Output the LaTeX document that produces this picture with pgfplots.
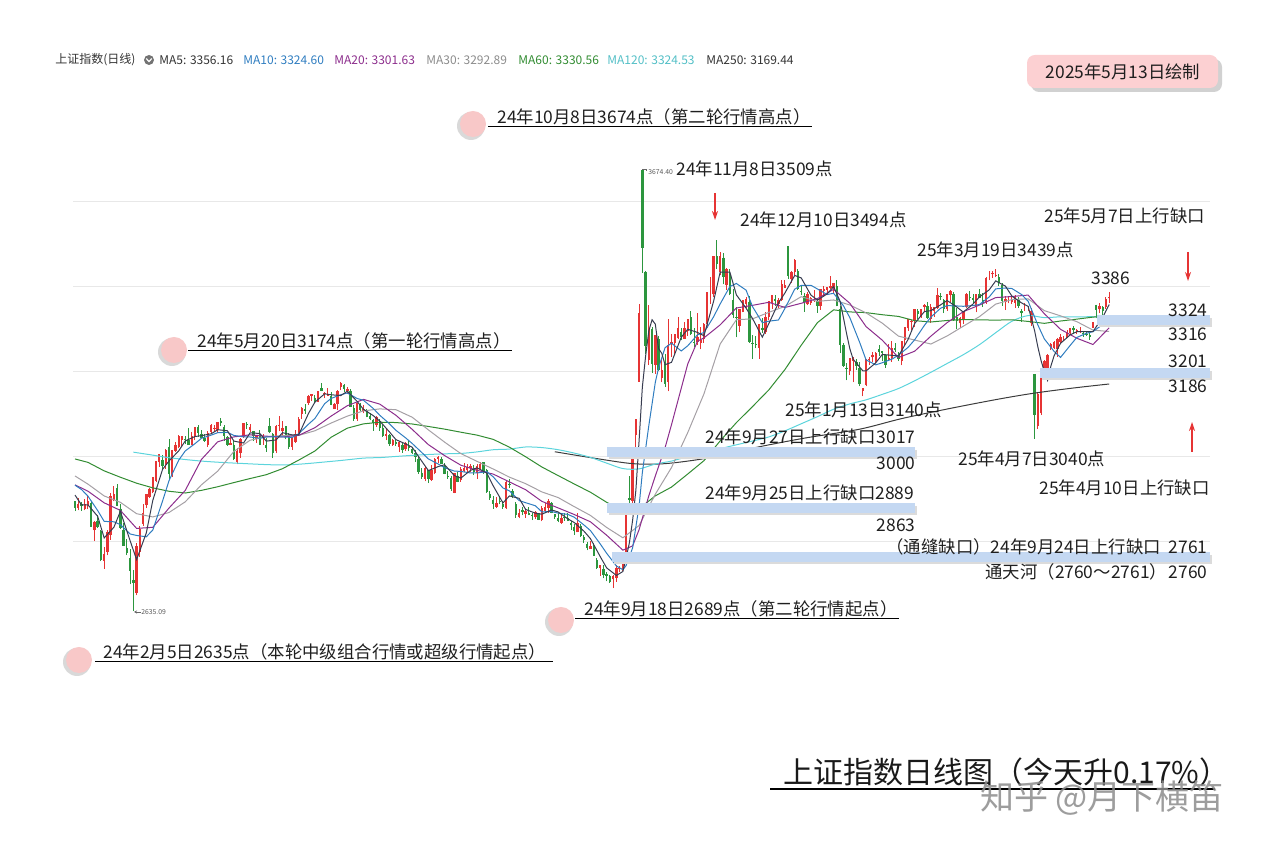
\documentclass[border=0pt]{standalone}
\usepackage{fontspec}
\setmainfont{Noto Sans CJK SC}
\usepackage{pgfplots}
\usepackage{pgfplotstable}
\pgfplotsset{compat=1.18}
\usetikzlibrary{arrows.meta}

\definecolor{upred}{RGB}{230,52,52}
\definecolor{dngreen}{RGB}{44,150,62}
\definecolor{ma5c}{RGB}{55,60,80}
\definecolor{ma10c}{RGB}{47,125,192}
\definecolor{ma20c}{RGB}{140,45,140}
\definecolor{ma30c}{RGB}{165,160,165}
\definecolor{ma60c}{RGB}{50,140,50}
\definecolor{ma120c}{RGB}{92,212,220}
\definecolor{ma250c}{RGB}{60,60,60}
\definecolor{bandblue}{RGB}{196,216,242}
\definecolor{circpink}{RGB}{248,200,200}
\definecolor{boxpink}{RGB}{252,208,210}

\pgfplotstableread{
i o h l c
0 2893 2895 2870 2877
1 2878 2900 2872 2886
2 2886 2892 2871 2882
3 2876 2898 2872 2886
4 2884 2906 2875 2894
5 2890 2892 2833 2833
6 2825 2846 2800 2845
7 2846 2862 2830 2832
8 2824 2826 2752 2756
9 2753 2786 2735 2770
10 2774 2827 2766 2820
11 2813 2913 2803 2906
12 2897 2929 2893 2910
13 2924 2933 2882 2883
14 2876 2888 2828 2830
15 2827 2842 2789 2789
16 2784 2804 2767 2771
17 2761 2782 2698 2730
18 2708 2731 2635 2702
19 2678 2796 2672 2789
20 2774 2836 2762 2829
21 2841 2888 2836 2866
22 2885 2911 2878 2910
23 2904 2924 2901 2922
24 2915 2951 2912 2951
25 2942 2988 2938 2988
26 2985 3005 2975 3004
27 2990 3003 2968 2977
28 2978 3016 2969 3015
29 3022 3040 2944 2957
30 2952 3015 2950 3015
31 3012 3032 3010 3027
32 3022 3049 3018 3047
33 3037 3048 3024 3048
34 3041 3046 3028 3040
35 3037 3065 3027 3027
36 3027 3056 3025 3046
37 3046 3068 3037 3068
38 3069 3074 3045 3055
39 3052 3061 3042 3043
40 3042 3051 3034 3036
41 3027 3059 3021 3054
42 3057 3075 3051 3073
43 3066 3073 3056 3067
44 3060 3079 3055 3079
45 3083 3090 3071 3077
46 3068 3072 3036 3048
47 3045 3046 3024 3026
48 3027 3051 3027 3031
49 3027 3038 2990 2993
50 2986 3019 2980 3011
51 3007 3042 2995 3041
52 3044 3077 3043 3077
53 3075 3080 3063 3074
54 3061 3075 3057 3069
55 3058 3059 3035 3047
56 3040 3050 3030 3048
57 3050 3061 3027 3027
58 3034 3051 3026 3034
59 3026 3042 3010 3019
60 3071 3090 3053 3057
61 3052 3053 2995 3007
62 3011 3072 3006 3071
63 3073 3093 3059 3074
64 3058 3083 3049 3065
65 3071 3071 3039 3044
66 3043 3053 3017 3021
67 3022 3045 3014 3044
68 3034 3061 3031 3052
69 3052 3092 3049 3088
70 3099 3115 3087 3113
71 3110 3123 3099 3105
72 3125 3143 3120 3141
73 3142 3147 3130 3147
74 3137 3143 3124 3128
75 3127 3154 3126 3154
76 3159 3171 3152 3154
77 3146 3151 3136 3148
78 3142 3159 3140 3145
79 3141 3151 3119 3119
80 3110 3124 3110 3122
81 3122 3155 3109 3154
82 3162 3174 3155 3171
83 3166 3169 3150 3157
84 3152 3163 3146 3158
85 3154 3157 3116 3116
86 3113 3119 3083 3088
87 3088 3125 3082 3124
88 3119 3125 3105 3109
89 3106 3119 3100 3111
90 3106 3111 3091 3091
91 3094 3102 3084 3086
92 3084 3087 3059 3078
93 3073 3095 3068 3091
94 3083 3088 3059 3065
95 3067 3073 3045 3048
96 3048 3064 3037 3051
97 3049 3052 3023 3028
98 3027 3040 3024 3037
99 3034 3038 3023 3028
100 3022 3036 3009 3032
101 3026 3033 3008 3015
102 3017 3033 3012 3030
103 3024 3035 3011 3018
104 3017 3022 3005 3008
105 3006 3013 2987 2998
106 2993 2998 2958 2963
107 2961 2972 2946 2950
108 2947 2975 2940 2972
109 2967 2968 2936 2945
110 2943 2978 2941 2967
111 2961 2996 2957 2994
112 2994 3000 2983 2997
113 2993 2998 2980 2982
114 2976 2983 2957 2957
115 2953 2964 2946 2950
116 2948 2952 2918 2922
117 2914 2961 2912 2959
118 2954 2962 2938 2939
119 2943 2973 2939 2970
120 2964 2983 2962 2971
121 2966 2980 2962 2975
122 2972 2980 2963 2976
123 2972 2978 2956 2962
124 2960 2982 2947 2977
125 2970 2986 2966 2982
126 2985 2986 2958 2964
127 2966 2969 2913 2915
128 2911 2917 2897 2901
129 2896 2907 2876 2887
130 2881 2904 2877 2890
131 2894 2906 2886 2891
132 2886 2893 2876 2879
133 2877 2942 2875 2938
134 2933 2946 2924 2932
135 2917 2922 2900 2905
136 2888 2891 2855 2860
137 2857 2875 2853 2867
138 2872 2880 2860 2869
139 2864 2874 2855 2870
140 2866 2879 2860 2862
141 2860 2865 2849 2858
142 2856 2870 2852 2868
143 2866 2867 2849 2850
144 2849 2883 2846 2877
145 2870 2889 2868 2879
146 2878 2898 2866 2893
147 2890 2892 2865 2866
148 2864 2864 2852 2856
149 2854 2865 2844 2848
150 2843 2862 2841 2855
151 2856 2866 2848 2854
152 2855 2865 2847 2848
153 2843 2848 2826 2837
154 2832 2840 2815 2823
155 2820 2867 2820 2842
156 2836 2839 2810 2811
157 2809 2815 2796 2802
158 2793 2798 2778 2784
159 2781 2801 2781 2788
160 2788 2795 2765 2765
161 2755 2760 2734 2736
162 2736 2744 2718 2744
163 2735 2744 2712 2721
164 2722 2727 2705 2717
165 2718 2720 2701 2704
166 2710 2720 2689 2717
167 2714 2743 2704 2736
168 2733 2740 2727 2736
169 2735 2760 2730 2748
170 2771 2863 2761 2863
171 2901 2952 2889 2896
172 2894 3000 2885 3000
173 3049 3088 3017 3088
174 3175 3358 3175 3336
175 3674 3674 3431 3490
176 3433 3436 3239 3258
177 3227 3355 3214 3302
178 3298 3303 3195 3217
179 3215 3285 3194 3284
180 3275 3282 3200 3202
181 3183 3231 3173 3202
182 3217 3240 3163 3169
183 3174 3322 3152 3261
184 3264 3287 3233 3268
185 3267 3286 3237 3286
186 3277 3326 3275 3302
187 3292 3300 3272 3280
188 3276 3316 3275 3300
189 3294 3323 3283 3323
190 3326 3341 3285 3286
191 3268 3301 3256 3266
192 3268 3337 3262 3279
193 3265 3303 3251 3272
194 3276 3312 3267 3311
195 3310 3387 3302 3387
196 3383 3420 3358 3383
197 3380 3470 3375 3471
198 3470 3509 3440 3452
199 3433 3479 3425 3470
200 3467 3477 3404 3422
201 3403 3442 3391 3439
202 3428 3441 3378 3380
203 3366 3392 3325 3331
204 3327 3350 3279 3324
205 3307 3346 3292 3346
206 3339 3368 3338 3368
207 3358 3374 3349 3370
208 3363 3376 3267 3268
209 3267 3284 3228 3264
210 3263 3282 3253 3260
211 3255 3309 3228 3310
212 3302 3325 3290 3296
213 3292 3339 3288 3326
214 3327 3365 3321 3364
215 3360 3379 3347 3379
216 3369 3378 3354 3365
217 3358 3371 3349 3368
218 3367 3413 3364 3405
219 3395 3414 3395 3402
220 3494 3495 3416 3423
221 3416 3435 3407 3433
222 3432 3464 3427 3461
223 3436 3439 3390 3392
224 3389 3400 3378 3386
225 3376 3384 3339 3362
226 3357 3386 3355 3382
227 3359 3375 3355 3371
228 3365 3391 3362 3368
229 3364 3370 3337 3352
230 3352 3394 3344 3394
231 3388 3400 3374 3394
232 3391 3398 3380 3398
233 3395 3424 3392 3400
234 3395 3408 3381 3407
235 3400 3414 3352 3352
236 3347 3352 3242 3262
237 3262 3265 3210 3211
238 3208 3219 3178 3207
239 3201 3230 3190 3230
240 3224 3233 3173 3230
241 3220 3229 3203 3212
242 3206 3220 3164 3169
243 3152 3161 3140 3161
244 3167 3228 3164 3228
245 3226 3233 3215 3228
246 3232 3245 3220 3237
247 3222 3245 3218 3242
248 3252 3262 3236 3244
249 3246 3247 3223 3243
250 3238 3240 3208 3213
251 3225 3263 3225 3231
252 3230 3271 3222 3253
253 3255 3266 3245 3250
254 3237 3244 3223 3229
255 3223 3270 3213 3270
256 3272 3304 3262 3303
257 3300 3322 3295 3322
258 3315 3321 3297 3318
259 3318 3346 3304 3346
260 3342 3345 3322 3333
261 3330 3347 3325 3347
262 3351 3358 3338 3355
263 3353 3362 3323 3324
264 3322 3358 3314 3351
265 3342 3351 3328 3350
266 3349 3395 3346 3379
267 3376 3384 3366 3374
268 3367 3369 3336 3346
269 3347 3381 3342 3380
270 3379 3391 3362 3388
271 3381 3386 3318 3321
272 3327 3348 3299 3317
273 3312 3328 3302 3325
274 3322 3342 3310 3342
275 3350 3383 3348 3381
276 3374 3388 3365 3373
277 3371 3382 3358 3367
278 3350 3380 3338 3380
279 3380 3392 3371 3371
280 3368 3383 3350 3359
281 3362 3420 3358 3419
282 3426 3436 3413 3426
283 3428 3435 3419 3430
284 3424 3439 3420 3426
285 3420 3428 3401 3408
286 3402 3406 3354 3364
287 3363 3377 3343 3370
288 3370 3377 3359 3370
289 3363 3376 3358 3368
290 3361 3378 3349 3374
291 3368 3373 3348 3352
292 3340 3345 3316 3336
293 3348 3361 3340 3348
294 3350 3354 3340 3350
295 3312 3349 3307 3342
296 3193 3193 3040 3097
297 3071 3148 3063 3145
298 3100 3186 3096 3186
299 3202 3225 3201 3224
300 3206 3240 3203 3238
301 3253 3265 3250 3263
302 3254 3271 3252 3268
303 3251 3277 3234 3276
304 3269 3287 3264 3281
305 3277 3283 3271 3277
306 3278 3296 3278 3292
307 3289 3301 3285 3300
308 3300 3305 3288 3296
309 3293 3298 3286 3297
310 3294 3304 3290 3295
311 3289 3293 3280 3288
312 3287 3295 3282 3286
313 3284 3290 3274 3279
314 3302 3316 3302 3316
315 3356 3356 3324 3343
316 3345 3359 3336 3353
317 3350 3354 3330 3342
318 3350 3374 3347 3370
319 3371 3386 3359 3374
}\candles

\pgfplotstableread{
i v
0 2908
2 2885
4 2885
7 2858
9 2807.2
12 2832.4
14 2869.8
17 2800.6
19 2756.2
22 2819.2
24 2895.6
27 2968.4
29 2988.2
32 3012.2
34 3035.4
37 3045.8
39 3047.8
42 3052.2
44 3061.8
47 3059.4
49 3035
52 3030.6
54 3054.4
57 3053
59 3035
62 3037.6
64 3054.8
67 3049.6
69 3049.8
72 3099.8
74 3126.8
77 3146.2
79 3144
82 3142.2
84 3152.4
87 3128.6
89 3109.6
92 3095
94 3082.2
97 3056.6
99 3038.4
102 3028.4
104 3020.6
107 2987.4
109 2965.6
112 2975
114 2979.4
117 2954
119 2948
122 2966.2
124 2972.2
127 2960
129 2929.8
132 2889.6
134 2906
137 2900.4
139 2874.2
142 2865.4
144 2863
147 2873
149 2868.4
152 2852.2
154 2843.4
157 2823
159 2805.4
162 2763.4
164 2736.6
167 2719
169 2728.2
170 2760
171 2795.8
172 2848.6
173 2919
174 3036.6
175 3162
176 3234.4
177 3294.8
178 3320.6
179 3310.2
180 3252.6
181 3241.4
182 3214.8
184 3220.4
187 3279.4
189 3298.2
192 3290.8
194 3282.8
197 3364.8
199 3432.6
202 3432.6
204 3379.2
207 3347.8
209 3323.2
212 3279.6
214 3311.2
217 3360.4
219 3383.8
222 3424.8
224 3419
227 3378.6
229 3367
232 3381.2
234 3398.6
236 3363.8
237 3326.4
238 3287.8
239 3252.4
240 3228
242 3209.6
243 3200.4
244 3200
247 3219.2
249 3238.8
252 3236.8
254 3235.2
257 3274.8
259 3311.8
262 3339.8
264 3342
267 3355.6
269 3365.8
272 3350.4
274 3338.6
277 3357.6
279 3374.4
282 3391
284 3412
287 3399.6
289 3376
292 3360
294 3352
296 3294.6
297 3256.4
298 3224
299 3198.8
300 3178
301 3211.2
302 3235.8
304 3265.2
307 3285.2
309 3292.4
312 3292.4
314 3292.8
317 3326.6
319 3356.4
}\maA

\pgfplotstableread{
i v
0 2931.3
2 2921.2
4 2905.5
7 2871.5
9 2846.1
12 2845.2
14 2838.5
17 2816.5
19 2813
22 2809.9
24 2825.9
27 2893.8
29 2941.9
32 2990.3
34 3011.8
37 3029
39 3041.6
42 3049
44 3054.8
47 3055.8
49 3048.4
52 3045
54 3044.7
57 3041.8
59 3044.7
62 3045.3
64 3044.9
67 3043.6
69 3052.3
72 3074.7
74 3088.3
77 3123
79 3135.4
82 3144.2
84 3148.2
87 3135.4
89 3131
92 3111.8
94 3095.9
97 3075.8
99 3060.3
102 3042.5
104 3029.5
107 3007.9
109 2993.1
112 2981.2
114 2972.5
117 2964.5
119 2963.7
122 2960.1
124 2960.1
127 2963.1
129 2951
132 2924.8
134 2917.9
137 2895
139 2890.1
142 2882.9
144 2868.6
147 2869.2
149 2865.7
152 2862.6
154 2855.9
157 2837.6
159 2824.4
162 2793.2
164 2771
167 2741.2
169 2732.4
170 2742.2
172 2783.8
174 2882.4
175 2961
177 3071.7
179 3173.4
180 3207.3
182 3254.8
184 3265.3
187 3247.1
189 3259.3
192 3285.1
194 3290.5
197 3327.8
199 3357.7
202 3398.7
204 3405.9
207 3390.2
209 3351.2
212 3313.7
214 3317.2
217 3320
219 3347.5
222 3392.6
224 3401.4
227 3401.7
229 3393
232 3379.9
234 3382.8
237 3353.8
239 3325.5
242 3268
244 3226.2
247 3214.4
249 3219.4
252 3228
254 3237
257 3255.8
259 3273.5
262 3307.3
264 3326.9
267 3347.7
269 3353.9
272 3353
274 3352.2
277 3354
279 3356.5
282 3374.3
284 3393.2
287 3395.3
289 3394
292 3379.8
294 3364
297 3308.2
299 3275.4
302 3246.1
304 3232
307 3260.5
309 3278.8
312 3288.8
314 3292.6
317 3309.5
319 3324.6
}\maB

\pgfplotstableread{
i v
0 2932
4 2917.2
9 2889.8
14 2872
19 2829.6
24 2832.2
29 2877.5
34 2918.9
39 2991.8
44 3033.3
49 3045
54 3049.8
59 3046.6
64 3044.8
69 3048.5
74 3066.6
79 3093.9
84 3118.3
89 3133.2
94 3122.1
99 3095.7
104 3062.7
109 3026.7
114 3001
119 2978.4
124 2966.3
129 2957.4
134 2939
139 2920.6
144 2893.3
149 2877.9
154 2862.3
159 2845.1
164 2813.5
169 2778.4
172 2788.5
174 2826.7
177 2906.5
179 2952.9
182 3019.3
184 3073.9
187 3159.4
189 3216.4
192 3270
194 3277.9
199 3308.5
204 3348.2
209 3354.5
214 3361.6
219 3349.4
224 3359.3
229 3370.3
234 3392.1
239 3359.3
244 3304.5
249 3272.5
254 3231.6
259 3246.5
264 3282
269 3313.7
274 3339.6
279 3355.2
284 3372.7
289 3375.3
294 3378.6
299 3334.7
304 3298
309 3277.1
314 3262.3
319 3301.7
}\maC

\pgfplotstableread{
i v
0 2953
4 2933.8
9 2906
14 2891
19 2864.2
24 2856.6
29 2867
34 2892.1
39 2932.2
44 2964.2
49 3010.6
54 3037.1
59 3044.9
64 3048.1
69 3048.5
74 3059.3
79 3077.5
84 3093.8
89 3106.2
94 3110.8
99 3108.9
104 3091.2
109 3061.5
114 3032.6
119 3005.7
124 2987.4
129 2969.3
134 2950.2
139 2934.9
144 2915.5
149 2902.3
154 2880.8
159 2860.1
164 2831.8
169 2807.5
174 2836.4
179 2910.1
184 2972.9
189 3055
194 3146.1
199 3263.5
204 3320.6
209 3322.7
214 3337.9
219 3352.1
224 3374.8
229 3363.9
234 3367.1
239 3355.3
244 3336.8
249 3312.6
254 3282
259 3272.8
264 3263.4
269 3282.3
274 3305.4
279 3328
284 3357.4
289 3368.1
294 3369.8
299 3342
304 3329.7
309 3316.1
314 3296.2
319 3292.9
}\maD

\pgfplotstableread{
i v
0 2993
4 2985
9 2965
14 2950
19 2936
24 2925
29 2917
34 2912.9
39 2919.1
44 2927.6
49 2937.4
54 2946.9
59 2956
64 2970.1
69 2990.3
74 3011.7
79 3044.1
84 3065.5
89 3075.6
94 3079.5
99 3078.7
104 3075.3
109 3069.5
114 3063.2
119 3056
124 3049.1
129 3039.1
134 3020.7
139 2998.2
144 2974.1
149 2954
154 2934.1
159 2914.7
164 2891
169 2871.2
174 2876
179 2906.2
184 2926.9
189 2957.6
194 2989
199 3035.5
204 3078.5
209 3116.4
214 3155.4
219 3203.6
224 3260.5
229 3313.7
234 3343.9
239 3339
244 3337.3
249 3332.4
254 3328.4
259 3318.4
264 3315.3
269 3318.8
274 3321.1
279 3320.3
284 3319.7
289 3320.5
294 3316.6
299 3312.1
304 3317.6
309 3322
314 3326.8
319 3330.5
}\maE

\pgfplotstableread{
i v
18 3009
24 3002
29 2996
39 2988
50 2983
65 2979
80 2988
89 2995
94 2996.2
99 2998.9
104 3001.5
109 3003.5
114 3005.1
119 3006
124 3009.6
129 3014.7
134 3016.2
139 3021.2
144 3019.8
149 3014.8
154 3006.8
159 2996.7
164 2983.2
169 2970.4
174 2969.6
179 2981.1
184 2988
189 2998.4
194 3004.8
199 3016.9
204 3026.3
209 3035.2
214 3044.8
219 3059.2
224 3075.8
229 3092.5
234 3110
239 3122.6
244 3132.1
249 3145
254 3158.7
259 3177
264 3196.9
269 3217.6
274 3238.3
279 3262
284 3290.1
289 3317.1
294 3330.3
299 3325.6
304 3327.5
309 3327.2
314 3327.6
319 3324.5
}\maF

\pgfplotstableread{
i v
148 3010
160 2995
172 2982
182 2982
195 2995
210 3020
225 3042
242 3063
255 3088
270 3112
285 3134
296 3148
308 3160
319 3169.4
}\maG

\tikzset{
  ann/.style={font=\fontsize{8.7pt}{10pt}\selectfont, inner sep=0pt, text=black!88},
  leg/.style={font=\fontsize{6pt}{7pt}\selectfont, inner sep=0pt, anchor=west},
}

\begin{document}
\begin{tikzpicture}
\begin{axis}[
  at={(0pt,0pt)}, anchor=south west,
  scale only axis, width=636.5pt, height=422pt,
  xmin=-23.134, xmax=369.53, ymin=2087.06, ymax=4072.94,
  hide axis, clip=false,
  colormap={updown}{color(0cm)=(dngreen) color(1cm)=(upred)},
  point meta min=0, point meta max=1,
]
% faint horizontal grid
\foreach \g in {2800,3000,3200,3400,3600}{
  \edef\tmp{\noexpand\draw[black!9, line width=0.4pt] (axis cs:-0.6,\g) -- (axis cs:350,\g);}
  \tmp
}
% candles: wicks and bodies
\addplot[quiver={u=0, v=\thisrow{h}-\thisrow{l}, colored=mapped color},
  point meta=explicit, line width=0.5pt, mark=none]
  table[x=i, y=l, meta expr={\thisrow{c}>=\thisrow{o}}] {\candles};
\addplot[quiver={u=0, v=\thisrow{c}-\thisrow{o}, colored=mapped color},
  point meta=explicit, line width=1.2pt, mark=none]
  table[x=i, y=o, meta expr={\thisrow{c}>=\thisrow{o}}] {\candles};
% moving averages
\addplot[ma250c, line width=0.5pt, mark=none, smooth] table[x=i, y=v] {\maG};
\addplot[ma120c, line width=0.5pt, mark=none, smooth] table[x=i, y=v] {\maF};
\addplot[ma60c, line width=0.5pt, mark=none] table[x=i, y=v] {\maE};
\addplot[ma30c, line width=0.5pt, mark=none] table[x=i, y=v] {\maD};
\addplot[ma20c, line width=0.5pt, mark=none] table[x=i, y=v] {\maC};
\addplot[ma10c, line width=0.5pt, mark=none] table[x=i, y=v] {\maB};
\addplot[ma5c, line width=0.5pt, mark=none] table[x=i, y=v] {\maA};
\end{axis}

% ---------- annotations in pixel coordinates ----------
\begin{scope}[shift={(0pt,422pt)}, x=0.5pt, y=-0.5pt]
% legend line
\node[leg, text=black!80] at (55,60) {上证指数(日线)};
\fill[black!55] (149,60) circle (5);
\draw[white, line width=0.6pt] (146.3,58.6) -- (149,61.6) -- (151.7,58.6);
\node[leg, text=black!80] at (159,60) {MA5: 3356.16};
\node[leg, text=ma10c] at (243,60) {MA10: 3324.60};
\node[leg, text=ma20c] at (334,60) {MA20: 3301.63};
\node[leg, text=black!45] at (426,60) {MA30: 3292.89};
\node[leg, text=ma60c] at (518,60) {MA60: 3330.56};
\node[leg, text=ma120c!90!black] at (607,60) {MA120: 3324.53};
\node[leg, text=black!80] at (706,60) {MA250: 3169.44};

% date box
\fill[black!18, rounded corners=4pt] (1031,59) rectangle (1222,92);
\fill[boxpink, rounded corners=4pt] (1027,55) rectangle (1218,88);
\node[ann] at (1123,72) {2025年5月13日绘制};

% gap bands
\foreach \xa/\xb/\ya in {607/915/447, 607/915/503, 612/1210/552, 1040/1210/368, 1097/1210/315}{
  \fill[black!14] (\xa+2,\ya+3) rectangle (\xb+2,\ya+12);
  \fill[bandblue] (\xa,\ya) rectangle (\xb,\ya+10);
}

% circles with shadow
\foreach \cx/\cy in {473/124, 174/350, 561/620, 79/660}{
  \fill[black!15] (\cx-2,\cy+2) circle (14);
  \fill[circpink] (\cx,\cy) circle (13);
}

% underlined labels
\node[ann, anchor=west] at (497,117) {24年10月8日3674点（第二轮行情高点）};
\draw[black, line width=0.5pt] (488,127) -- (812,127);
\node[ann, anchor=west] at (197,341) {24年5月20日3174点（第一轮行情高点）};
\draw[black, line width=0.5pt] (188,351) -- (512,351);
\node[ann, anchor=west] at (584,609) {24年9月18日2689点（第二轮行情起点）};
\draw[black, line width=0.5pt] (575,619) -- (899,619);
\node[ann, anchor=west] at (103,652) {24年2月5日2635点（本轮中级组合行情或超级行情起点）};
\draw[black, line width=0.5pt] (95,662) -- (553,662);

% other labels
\node[ann, anchor=west] at (676,169) {24年11月8日3509点};
\node[ann, anchor=west] at (740,220) {24年12月10日3494点};
\node[ann, anchor=west] at (1044,216) {25年5月7日上行缺口};
\node[ann, anchor=west] at (917,250) {25年3月19日3439点};
\node[ann, anchor=west] at (1091,278) {3386};
\node[ann, anchor=east] at (1208,310) {3324};
\node[ann, anchor=east] at (1208,334) {3316};
\node[ann, anchor=east] at (1208,361) {3201};
\node[ann, anchor=east] at (1208,386) {3186};
\node[ann, anchor=west] at (785,410) {25年1月13日3140点};
\node[ann, anchor=west] at (705,437) {24年9月27日上行缺口};
\node[ann, anchor=east] at (916,437) {3017};
\node[ann, anchor=east] at (916,463) {3000};
\node[ann, anchor=west] at (958,459) {25年4月7日3040点};
\node[ann, anchor=east] at (1210,488) {25年4月10日上行缺口};
\node[ann, anchor=west] at (705,493) {24年9月25日上行缺口2889};
\node[ann, anchor=east] at (916,525) {2863};
\node[ann, anchor=west] at (886,547) {（通缝缺口）24年9月24日上行缺口};
\node[ann, anchor=east] at (1208,547) {2761};
\node[ann, anchor=west] at (985,572) {通天河（2760～2761）};
\node[ann, anchor=east] at (1208,572) {2760};

% red arrows
\draw[upred, line width=0.6pt, -{Stealth[length=4.5pt, width=3pt]}] (715,193) -- (715,220);
\draw[upred, line width=0.6pt, -{Stealth[length=4.5pt, width=3pt]}] (1188,252) -- (1188,281);
\draw[upred, line width=0.6pt, -{Stealth[length=4.5pt, width=3pt]}] (1192,452) -- (1192,422);

% tiny extreme labels
\draw[black!60, line width=0.3pt] (642,169) -- (646,169) -- (646,171);
\node[anchor=west, inner sep=0pt, font=\fontsize{3.4pt}{4pt}\selectfont, text=black!65] at (648,172) {3674.40};
\draw[black!60, line width=0.3pt, -{Stealth[length=1.5pt, width=1.5pt]}] (141,612) -- (134,612);
\node[anchor=west, inner sep=0pt, font=\fontsize{3.4pt}{4pt}\selectfont, text=black!65] at (141,612) {2635.09};

% title and watermark
\node[anchor=west, inner sep=0pt, font=\fontsize{15pt}{17pt}\selectfont, text=black!90] at (783,772) {上证指数日线图（今天升0.17\%）};
\draw[black, line width=0.6pt] (770,789) -- (1215,789);
\node[inner sep=0pt, font=\fontsize{17pt}{19pt}\selectfont, text=black!45, opacity=0.85] at (1102,798) {知乎 @月下横笛};
\end{scope}

\pgfresetboundingbox
\path[use as bounding box] (0,0) rectangle (636.5pt,422pt);
\end{tikzpicture}
\end{document}
